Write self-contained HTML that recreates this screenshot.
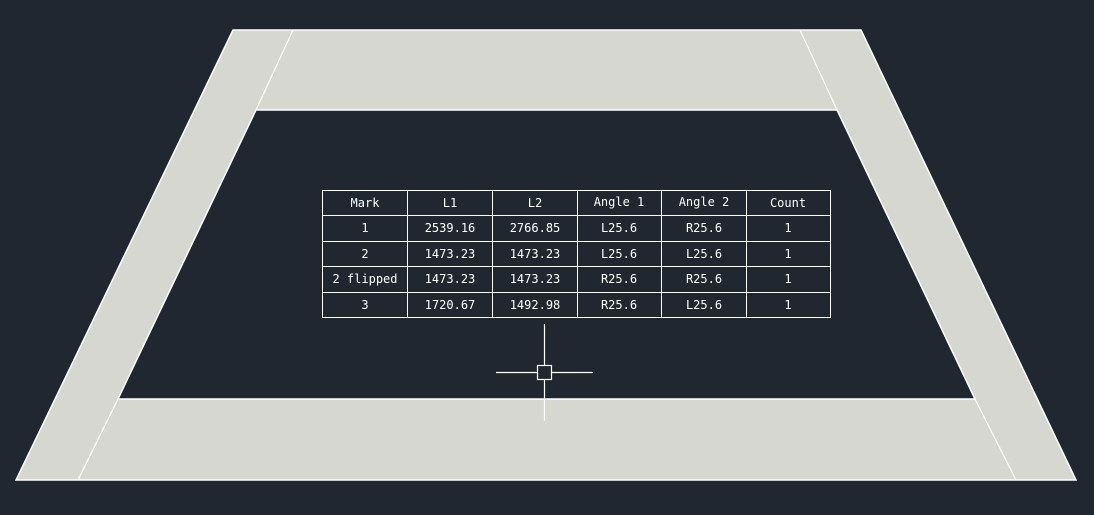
<!DOCTYPE html>
<html><head><meta charset="utf-8"><style>
html,body{margin:0;padding:0;background:#212730;}
svg{display:block}
text{font-family:"DejaVu Sans Mono","Liberation Mono",monospace;font-size:12px;fill:#fff;text-anchor:middle;}
</style></head><body>
<svg width="1094" height="515" viewBox="0 0 1094 515" xmlns="http://www.w3.org/2000/svg">
<rect width="1094" height="515" fill="#212730"/>
<path d="M233,30 L861,30 L1076,480 L16,480 Z M256,110 L118,399 L975,399 L837,110 Z" fill="#d6d7d1" fill-rule="evenodd" stroke="#fff" stroke-width="1.5"/>
<g stroke="#fff" stroke-width="1.2">
<line x1="293" y1="30" x2="256" y2="110"/>
<line x1="800" y1="30" x2="837" y2="110"/>
<line x1="118" y1="399" x2="78" y2="480"/>
<line x1="975" y1="399" x2="1016" y2="480"/>
</g>
<g stroke="#fff" stroke-width="1" fill="none">
<rect x="322.5" y="190.5" width="508" height="127"/>
<line x1="322" y1="215.5" x2="831" y2="215.5"/>
<line x1="322" y1="241.5" x2="831" y2="241.5"/>
<line x1="322" y1="266.5" x2="831" y2="266.5"/>
<line x1="322" y1="292.5" x2="831" y2="292.5"/>
<line x1="407.5" y1="190" x2="407.5" y2="318"/>
<line x1="492.5" y1="190" x2="492.5" y2="318"/>
<line x1="577.5" y1="190" x2="577.5" y2="318"/>
<line x1="661.5" y1="190" x2="661.5" y2="318"/>
<line x1="746.5" y1="190" x2="746.5" y2="318"/>
</g>
<g>
<text x="365" y="207">Mark</text><text x="450" y="207">L1</text><text x="535" y="207">L2</text><text x="619" y="206">Angle 1</text><text x="704" y="206">Angle 2</text><text x="788" y="207">Count</text>
<text x="365" y="232">1</text><text x="450" y="232">2539.16</text><text x="535" y="232">2766.85</text><text x="619" y="232">L25.6</text><text x="704" y="232">R25.6</text><text x="788" y="232">1</text>
<text x="365" y="258">2</text><text x="450" y="258">1473.23</text><text x="535" y="258">1473.23</text><text x="619" y="258">L25.6</text><text x="704" y="258">L25.6</text><text x="788" y="258">1</text>
<text x="365" y="283">2 flipped</text><text x="450" y="283">1473.23</text><text x="535" y="283">1473.23</text><text x="619" y="283">R25.6</text><text x="704" y="283">R25.6</text><text x="788" y="283">1</text>
<text x="365" y="309">3</text><text x="450" y="309">1720.67</text><text x="535" y="309">1492.98</text><text x="619" y="309">R25.6</text><text x="704" y="309">L25.6</text><text x="788" y="309">1</text>
</g>
<g stroke="#fff" stroke-width="1.2" fill="none">
<line x1="544.5" y1="324" x2="544.5" y2="365"/>
<line x1="544.5" y1="379" x2="544.5" y2="421"/>
<line x1="496" y1="372.5" x2="537.5" y2="372.5"/>
<line x1="551.5" y1="372.5" x2="593" y2="372.5"/>
<rect x="537.5" y="365.5" width="14" height="14"/>
</g>
</svg>
</body></html>
